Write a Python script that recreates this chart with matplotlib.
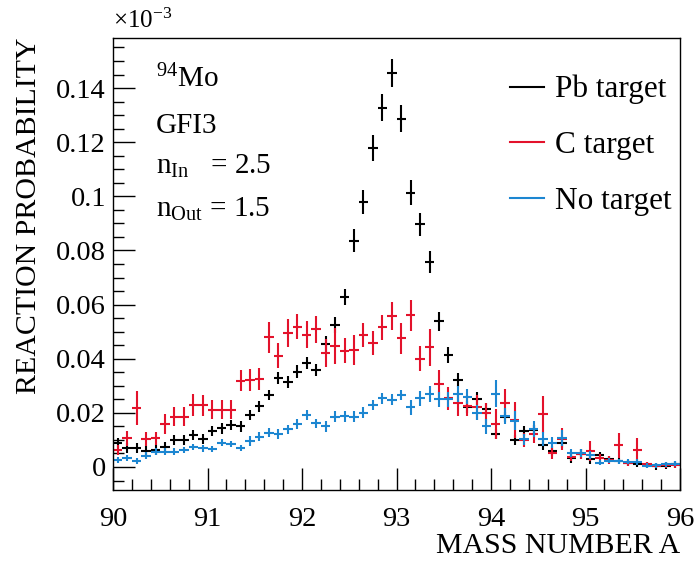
import matplotlib
matplotlib.use("Agg")
import matplotlib.pyplot as plt
from matplotlib.lines import Line2D
from matplotlib.ticker import MultipleLocator, FuncFormatter
import numpy as np

plt.rcParams['font.family'] = ['Liberation Serif', 'DejaVu Serif']
plt.rcParams['mathtext.fontset'] = 'custom'
plt.rcParams['mathtext.rm'] = 'Liberation Serif'
plt.rcParams['mathtext.it'] = 'Liberation Serif:italic'

# bins of width 0.1 from 90 to 96
bin_edges = np.linspace(90, 96, 61)
mass = 0.5 * (bin_edges[:-1] + bin_edges[1:])

# reaction probability, units of 1e-3
pb = [0.009, 0.007, 0.007, 0.006, 0.0063, 0.0074, 0.010, 0.010, 0.0117, 0.0103,
      0.0133, 0.0143, 0.0155, 0.0151, 0.0192, 0.0225, 0.0266, 0.0328, 0.0315, 0.0352,
      0.0385, 0.0358, 0.0454, 0.0525, 0.0629, 0.0836, 0.0978, 0.118, 0.1327, 0.1455,
      0.1287, 0.1013, 0.0897, 0.0758, 0.0539, 0.0413, 0.0321, 0.0223, 0.0252, 0.0214,
      0.0122, 0.0186, 0.0101, 0.0134, 0.0137, 0.0082, 0.0058, 0.009, 0.0033, 0.0048,
      0.0028, 0.0045, 0.003, 0.0022, 0.0014, 0.0011, 0.0007, 0.0002, 0.0005, 0.001]
pb_err = [0.0018] * 10 + [0.002] * 7 + [0.0023] * 5 + [0.003] * 3 + \
         [0.0043, 0.0045, 0.0048, 0.005, 0.0052, 0.005, 0.0046, 0.0043, 0.004] + \
         [0.0035, 0.003, 0.0026, 0.0022, 0.0024, 0.0022] + [0.0018] * 11 + [0.0012] * 9

c = [0.0063, 0.0106, 0.0219, 0.0103, 0.0106, 0.0158, 0.0186, 0.0186, 0.0228, 0.0228,
     0.0211, 0.0211, 0.0211, 0.0319, 0.0321, 0.0325, 0.0479, 0.0411, 0.0496, 0.0518,
     0.0488, 0.0508, 0.0422, 0.0447, 0.043, 0.0432, 0.0488, 0.0459, 0.0516, 0.0559,
     0.0475, 0.056, 0.04, 0.0442, 0.0306, 0.0254, 0.0235, 0.0227, 0.022, 0.0198,
     0.0159, 0.0238, 0.0174, 0.01, 0.0122, 0.0195, 0.0051, 0.0103, 0.0036, 0.0048,
     0.0059, 0.0032, 0.0025, 0.0081, 0.0014, 0.0063, 0.001, 0.0005, 0.0008, 0.0008]
c_err = [0.0018, 0.0028, 0.0062, 0.0025, 0.0025, 0.0037, 0.0034, 0.0034, 0.004, 0.0038,
         0.0035, 0.0035, 0.0035, 0.004, 0.004, 0.004, 0.0058, 0.0046, 0.0052, 0.0046,
         0.005, 0.005, 0.0052, 0.0068, 0.0045, 0.0055, 0.0043, 0.0045, 0.0046, 0.0052,
         0.0058, 0.0057, 0.0046, 0.0068, 0.0052, 0.0043, 0.0045, 0.004, 0.0045, 0.004,
         0.0055, 0.0052, 0.0066, 0.0025, 0.0035, 0.0068, 0.002, 0.0042, 0.0015, 0.002,
         0.0037, 0.0015, 0.0015, 0.0046, 0.001, 0.0045, 0.001, 0.001, 0.001, 0.001]

none = [0.0026, 0.0034, 0.0022, 0.0042, 0.0057, 0.0057, 0.0057, 0.0063, 0.0073, 0.0069,
        0.0066, 0.009, 0.0085, 0.0071, 0.0096, 0.0112, 0.0127, 0.0122, 0.0139, 0.0159,
        0.0192, 0.0162, 0.0151, 0.0186, 0.0188, 0.0186, 0.0201, 0.0229, 0.0254, 0.0248,
        0.0266, 0.022, 0.0254, 0.0269, 0.025, 0.025, 0.027, 0.026, 0.0201, 0.0151,
        0.027, 0.0188, 0.0171, 0.0102, 0.014, 0.0103, 0.009, 0.0108, 0.0053, 0.0051,
        0.0044, 0.0016, 0.0023, 0.0021, 0.002, 0.0018, 0.0005, 0.0006, 0.001, 0.0012]
none_err = [0.0012] * 14 + [0.0017] * 8 + [0.002] * 9 + \
           [0.0028, 0.0028, 0.003, 0.0028, 0.0028, 0.003, 0.0028, 0.0028, 0.0028] + \
           [0.005, 0.003, 0.0035, 0.002, 0.003, 0.0025, 0.002, 0.003] + \
           [0.0015] * 3 + [0.001] * 9

col_pb = 'black'
col_c = '#e3122b'
col_none = '#1c86d1'

fig = plt.figure(figsize=(6.95, 5.63), dpi=100)
ax = fig.add_axes([113 / 695, 73 / 563, 567 / 695, 452 / 563])

for y, e, col in [(pb, pb_err, col_pb), (c, c_err, col_c), (none, none_err, col_none)]:
    ax.errorbar(mass, y, xerr=0.05, yerr=e, fmt='none', ecolor=col,
                elinewidth=1.5, capsize=0)

ax.set_xlim(90, 96)
ax.set_ylim(-0.0085, 0.1585)

ax.xaxis.set_major_locator(MultipleLocator(1))
ax.xaxis.set_minor_locator(MultipleLocator(0.2))
ax.yaxis.set_major_locator(MultipleLocator(0.02))
ax.yaxis.set_minor_locator(MultipleLocator(0.005))
ax.yaxis.set_major_formatter(FuncFormatter(lambda v, p: '%g' % round(v, 4)))
ax.tick_params(which='both', direction='in', top=False, right=False,
               labelsize=20.5, width=1)
ax.tick_params(which='major', length=16)
ax.tick_params(which='minor', length=8)
ax.tick_params(axis='x', which='major', pad=12)
ax.tick_params(axis='y', which='major', pad=5)
for s in ax.spines.values():
    s.set_linewidth(1)

ax.set_xlabel('MASS NUMBER A', fontsize=21.5, loc='right', labelpad=1)
ax.set_ylabel('REACTION PROBABILITY', fontsize=21.5, loc='top', labelpad=10)
ax.text(0.0, 1.01, r'$\times$10$^{-3}$', transform=ax.transAxes,
        fontsize=18, va='bottom', ha='left')

ax.text(0.075, 0.89, r'$^{94}$Mo', transform=ax.transAxes, fontsize=21)
ax.text(0.075, 0.79, 'GFI3', transform=ax.transAxes, fontsize=21)
ax.text(0.075, 0.70, r'n$_{\mathrm{In}}$   = 2.5', transform=ax.transAxes, fontsize=21)
ax.text(0.075, 0.605, r'n$_{\mathrm{Out}}$ = 1.5', transform=ax.transAxes, fontsize=21)

handles = [Line2D([], [], color=col_pb, lw=1.5),
           Line2D([], [], color=col_c, lw=1.5),
           Line2D([], [], color=col_none, lw=1.5)]
fig.legend(handles, ['Pb target', 'C target', 'No target'], loc='upper left',
           bbox_to_anchor=(510 / 695, (563 - 75) / 563), frameon=False,
           fontsize=22.5, handlelength=1.1, handletextpad=0.35, labelspacing=0.85,
           borderpad=0, borderaxespad=0)

fig.savefig('out.png', dpi=100)
